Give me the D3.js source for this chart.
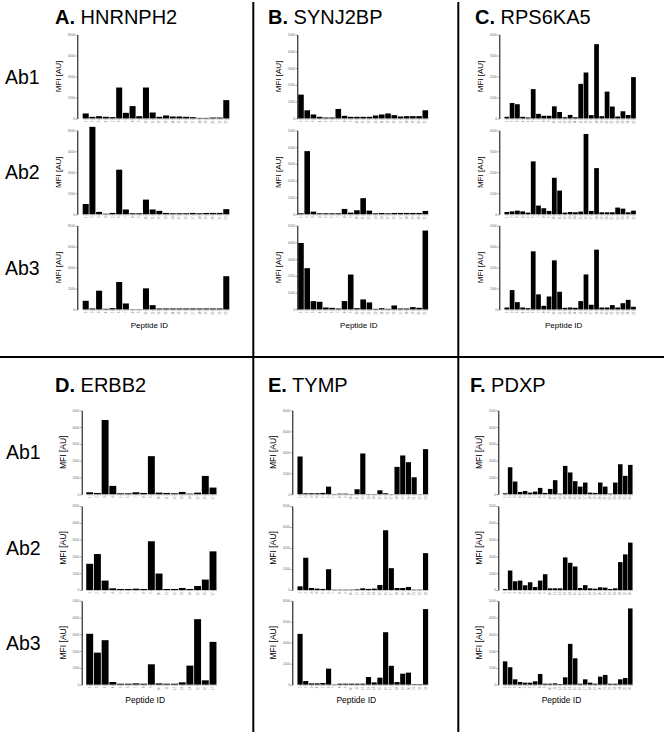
<!DOCTYPE html>
<html><head><meta charset="utf-8">
<script src="https://cdn.jsdelivr.net/npm/d3@7"></script>
<style>body{margin:0;background:#fff}svg{display:block}</style>
</head><body>
<svg id="c" width="664" height="736"></svg>
<script>
// ---------- data ----------
const antibodies = ["Ab1", "Ab2", "Ab3"];
const panelLetters = ["A.", "B.", "C.", "D.", "E.", "F."];
const panelGenes = ["HNRNPH2", "SYNJ2BP", "RPS6KA5", "ERBB2", "TYMP", "PDXP"];
const xTitle = "Peptide ID";
const yTitle = "MFI [AU]";

// A. HNRNPH2
const peptidesA = ["1","2","3","4","5","6","7","8","9","10","11","12","13","14","15","16","17","18","19","20","21","22"];
const yTicksA = [0, 2000, 4000, 6000, 8000];
const hnrnph2Ab1 = [480,160,220,160,130,2950,540,1180,220,2950,570,160,290,190,190,160,130,60,60,95,95,1750];
const hnrnph2Ab2 = [980,8330,230,60,130,4250,460,100,100,1400,460,330,130,100,100,100,130,100,130,130,130,490];
const hnrnph2Ab3 = [830,100,1790,65,130,2620,575,30,30,2015,415,100,100,100,100,100,100,100,100,100,100,3170];

// B. SYNJ2BP
const peptidesB = ["1","2","3","4","5","6","7","8","9","10","11","12","13","14","15","16","17","18","19","20","21"];
const yTicksB = [0, 1000, 2000, 3000, 4000, 5000];
const synj2bpAb1 = [1420,490,240,100,60,60,570,160,100,100,100,100,180,240,300,200,120,140,140,140,490];
const synj2bpAb2 = [60,3760,160,60,60,60,60,320,100,240,960,220,60,80,60,80,80,80,80,80,200];
const synj2bpAb3 = [3960,2460,500,460,120,100,60,500,2080,80,600,420,40,80,40,240,60,60,140,100,4700];

// C. RPS6KA5
const peptidesC = ["1","2","3","4","5","6","7","8","9","10","11","12","13","14","15","16","17","18","19","20","21","22","23","24","25"];
const yTicksC = [0, 1000, 2000, 3000, 4000];
const rps6ka5Ab1 = [80,740,680,80,50,1400,220,130,130,580,310,60,170,60,1650,2190,160,3540,110,1280,570,95,345,170,1970];
const rps6ka5Ab2 = [110,140,175,140,80,2520,415,290,160,1740,1130,80,110,95,130,3825,160,2200,95,95,95,320,270,95,175];
const rps6ka5Ab3 = [95,925,350,95,65,2770,720,175,620,2340,845,80,95,80,400,1670,225,2850,95,95,210,95,300,460,130];

// D. ERBB2
const peptidesD = ["1","2","3","4","5","6","7","8","9","10","11","12","13","14","15","16","17"];
const yTicksD = [0, 1000, 2000, 3000, 4000, 5000];
const erbb2Ab1 = [120,80,4420,500,60,60,120,80,2270,100,80,60,140,40,100,1095,400];
const erbb2Ab2 = [1560,2140,560,100,60,60,80,60,2900,980,60,60,120,60,240,620,2300];
const erbb2Ab3 = [3030,1910,2650,160,60,60,80,60,1215,80,60,60,140,1135,3900,260,2550];

// E. TYMP
const peptidesE = ["1","2","3","4","5","6","7","8","9","10","11","12","13","14","15","16","17","18","19","20","21","22","23"];
const yTicksE = [0, 2000, 4000, 6000, 8000];
const tympAb1 = [3600,100,100,100,130,730,30,60,60,30,480,3890,30,30,380,100,20,2610,3700,3060,1620,20,4300];
const tympAb2 = [350,3070,190,130,100,1980,30,30,30,30,60,160,100,130,480,5690,2080,190,190,290,30,30,3510];
const tympAb3 = [4840,350,130,130,160,1530,30,100,100,100,100,100,730,220,670,5000,1800,250,1050,1150,50,50,7200];

// F. PDXP
const peptidesF = ["1","2","3","4","5","6","7","8","9","10","11","12","13","14","15","16","17","18","19","20","21","22","23","24","25","26"];
const yTicksF = [0, 1000, 2000, 3000, 4000, 5000];
const pdxpAb1 = [60,1610,760,140,200,100,160,380,80,320,840,40,1690,1300,780,460,700,100,80,700,460,40,700,1790,1100,1750];
const pdxpAb2 = [60,1160,520,560,280,460,180,560,940,100,100,100,1940,1620,1400,120,290,100,80,160,140,60,100,1660,2120,2820];
const pdxpAb3 = [1390,1040,320,160,120,120,200,640,60,60,80,40,440,2430,1570,60,320,120,60,480,580,60,60,320,400,4540];

// ---------- layout ----------
const FONT = "'Liberation Sans', Arial, Helvetica, sans-serif";
const svg = d3.select("#c");

const panels = [
  {peptides: peptidesA, ticks: yTicksA, series: [hnrnph2Ab1, hnrnph2Ab2, hnrnph2Ab3]},
  {peptides: peptidesB, ticks: yTicksB, series: [synj2bpAb1, synj2bpAb2, synj2bpAb3]},
  {peptides: peptidesC, ticks: yTicksC, series: [rps6ka5Ab1, rps6ka5Ab2, rps6ka5Ab3]},
  {peptides: peptidesD, ticks: yTicksD, series: [erbb2Ab1, erbb2Ab2, erbb2Ab3]},
  {peptides: peptidesE, ticks: yTicksE, series: [tympAb1, tympAb2, tympAb3]},
  {peptides: peptidesF, ticks: yTicksF, series: [pdxpAb1, pdxpAb2, pdxpAb3]}
];
const geom = [
  {axisX: 77.3,  x0: 82.5,  x1: 229.5, titleX: 55,  row: 0},
  {axisX: 297.3, x0: 298,   x1: 428.3, titleX: 268, row: 0},
  {axisX: 499.3, x0: 504.3, x1: 636,   titleX: 475, row: 0},
  {axisX: 81.7,  x0: 86,    x1: 216.7, titleX: 55,  row: 1},
  {axisX: 292.3, x0: 297.3, x1: 428.3, titleX: 268, row: 1},
  {axisX: 498.3, x0: 502.7, x1: 632.7, titleX: 470, row: 1}
];
const rows = [
  {zeros: [118.5, 214.3, 309.5], titleY: 24.3, labFs: 8, abXs: 5},
  {zeros: [494.3, 590, 684.7], titleY: 391.7, labFs: 8.5, abXs: 6}
];
const plotH = 84;

// dividers
svg.append("line").attr("x1", 0).attr("x2", 664).attr("y1", 357).attr("y2", 357)
  .attr("stroke", "#000").attr("stroke-width", 2);
[253.3, 458.3].forEach(x => {
  svg.append("line").attr("x1", x).attr("x2", x).attr("y1", 2).attr("y2", 732)
    .attr("stroke", "#000").attr("stroke-width", 2);
});

// Ab row labels
rows.forEach(r => {
  r.zeros.forEach((z, i) => {
    svg.append("text").attr("x", r.abXs).attr("y", z - plotH / 2 + 7)
      .attr("font-family", FONT).attr("font-size", 19.5).attr("fill", "#000")
      .text(antibodies[i]);
  });
});

panels.forEach((p, pi) => {
  const g = geom[pi];
  const r = rows[g.row];
  // title
  const t = svg.append("text").attr("x", g.titleX).attr("y", r.titleY)
    .attr("font-family", FONT).attr("font-size", 20).attr("fill", "#000");
  t.append("tspan").attr("font-weight", "bold").text(panelLetters[pi]);
  t.append("tspan").text(" " + panelGenes[pi]);

  const x = d3.scaleBand().domain(p.peptides).range([g.x0, g.x1]).paddingInner(0.1).paddingOuter(0.03);

  p.series.forEach((vals, si) => {
    const zero = r.zeros[si];
    const y = d3.scaleLinear().domain([0, d3.max(p.ticks)]).range([zero, zero - plotH]);
    const cg = svg.append("g");

    cg.selectAll("rect").data(vals).join("rect")
      .attr("x", (d, i) => x(p.peptides[i]))
      .attr("width", x.bandwidth())
      .attr("y", d => y(d))
      .attr("height", d => zero - y(d))
      .attr("fill", "#000");

    // y axis
    const ya = cg.append("g").attr("transform", `translate(${g.axisX},0)`)
      .call(d3.axisLeft(y).tickValues(p.ticks).tickSize(2).tickSizeOuter(0).tickFormat(d3.format("d")));
    ya.select(".domain").attr("stroke", "#000").attr("stroke-width", 1);
    ya.selectAll(".tick line").attr("stroke", "#666").attr("stroke-width", 0.6);
    ya.selectAll(".tick text").attr("font-size", 3).attr("fill", "#666").attr("font-family", FONT).attr("x", -2.5);

    // x axis
    const xa = cg.append("g").attr("transform", `translate(0,${zero})`)
      .call(d3.axisBottom(x).tickSize(1.2).tickSizeOuter(0));
    xa.select(".domain").attr("stroke", "#999").attr("stroke-width", 0.5);
    xa.selectAll(".tick line").attr("stroke", "#777").attr("stroke-width", 0.5);
    xa.selectAll(".tick text").attr("font-size", 3).attr("fill", "#777").attr("font-family", FONT)
      .attr("transform", "rotate(-90)").attr("text-anchor", "end").attr("dy", "0.35em")
      .attr("x", -2).attr("y", 0);

    // y title
    svg.append("text")
      .attr("transform", `translate(${g.axisX - 16},${zero - plotH / 2}) rotate(-90)`)
      .attr("text-anchor", "middle").attr("font-family", FONT)
      .attr("font-size", r.labFs).attr("fill", "#000").text(yTitle);
  });

  // x title
  svg.append("text")
    .attr("x", (g.axisX + g.x1) / 2 - 4).attr("y", r.zeros[2] + 18.5)
    .attr("text-anchor", "middle").attr("font-family", FONT)
    .attr("font-size", r.labFs).attr("fill", "#000").text(xTitle);
});
</script>
</body></html>
